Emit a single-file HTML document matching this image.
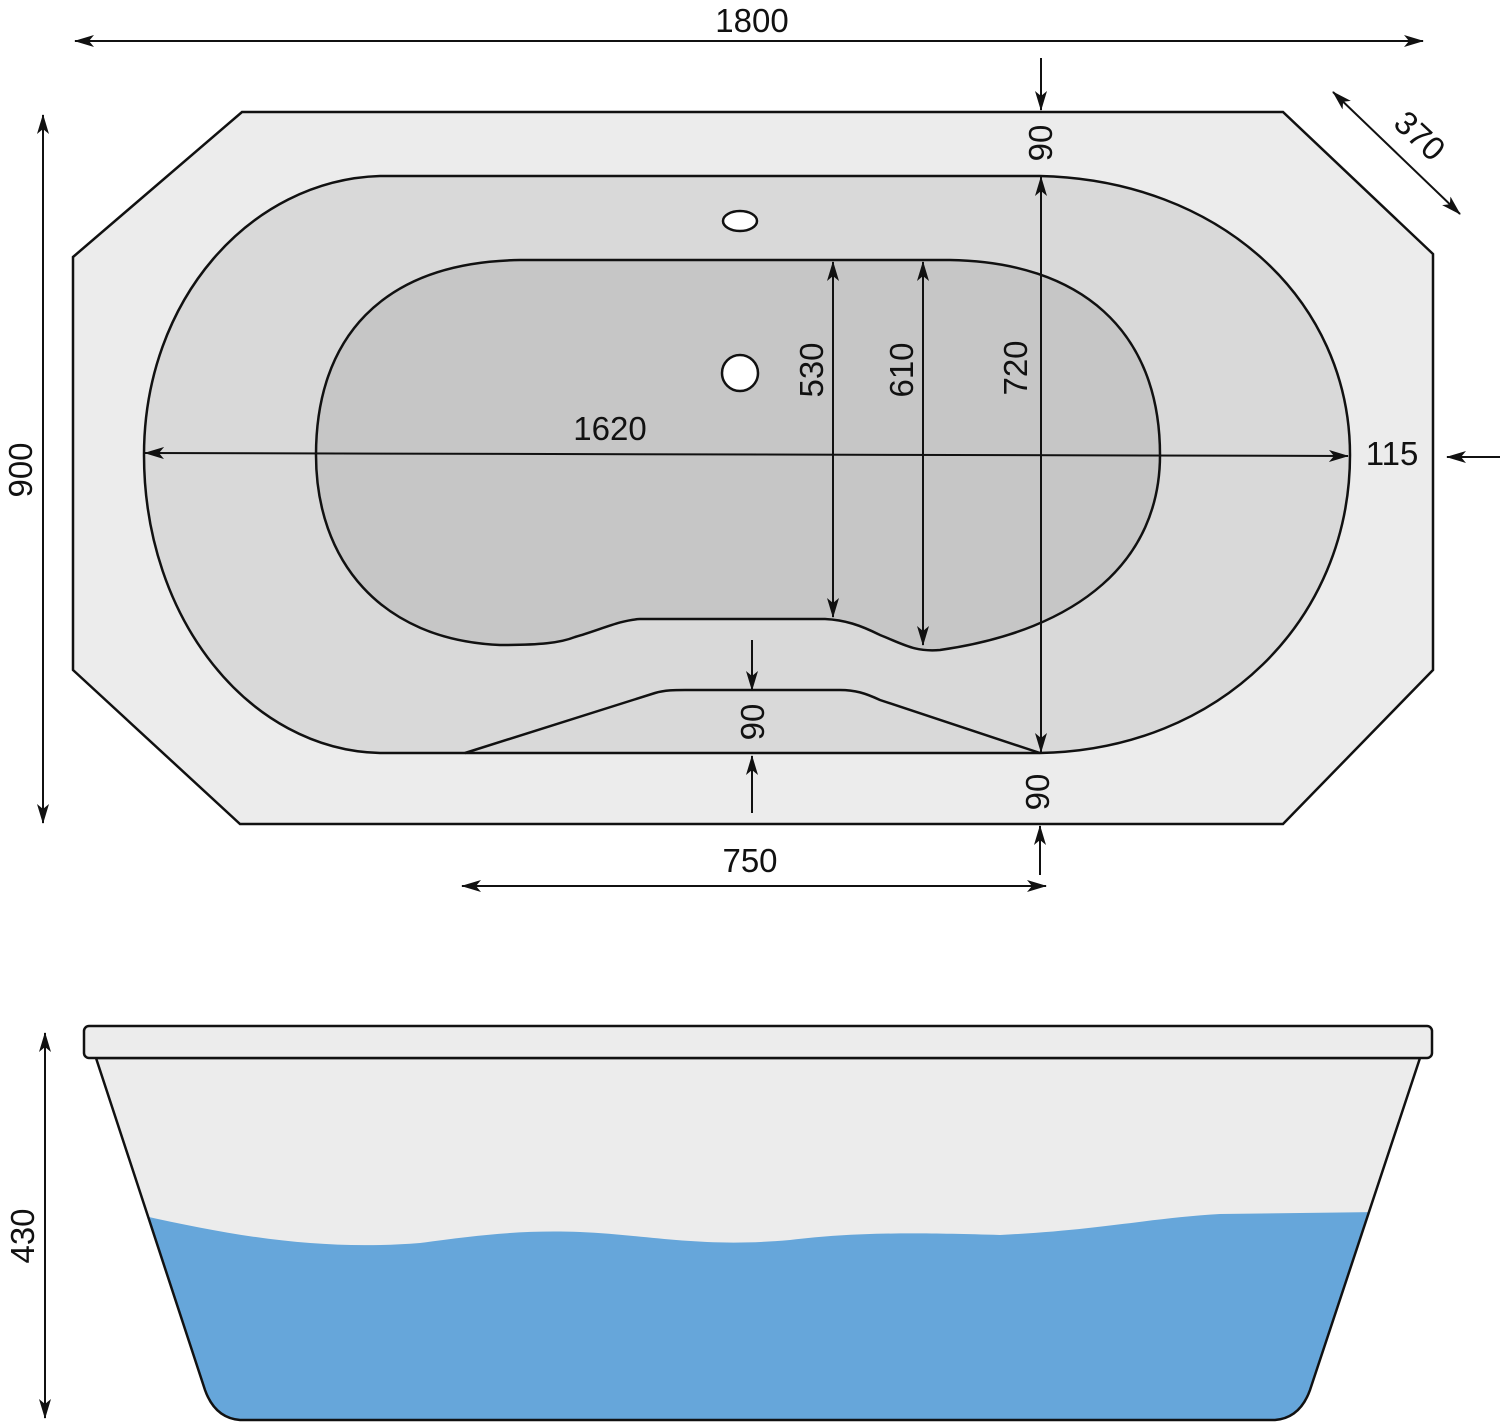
<!DOCTYPE html>
<html><head><meta charset="utf-8"><style>html,body{margin:0;padding:0;background:#fff}svg{display:block}text{font-family:"Liberation Sans",sans-serif;font-size:33px;fill:#111}</style></head>
<body>
<svg width="1500" height="1422" viewBox="0 0 1500 1422" xmlns="http://www.w3.org/2000/svg">
<defs>
<marker id="a" viewBox="0 0 20 12" refX="19" refY="6" markerWidth="20" markerHeight="12" markerUnits="userSpaceOnUse" orient="auto-start-reverse"><path d="M0,0 L20,6 L0,12 L5,6 Z" fill="#111"/></marker>
<clipPath id="bc"><path d="M96,1058 L1420,1058 L1310,1390 Q1300,1418 1275,1420 L240,1420 Q215,1418 205,1390 Z"/></clipPath>
</defs>
<g stroke="#111" stroke-width="2.5">
<path d="M242,112 L1283,112 L1433,254 L1433,670 L1283,824 L240,824 L73,670 L73,257 Z" fill="#ececec"/>
<path d="M380,176 L1040,176 C1220,180 1350,300 1350,455 C1350,620 1220,750 1040,753 L380,753 C250,750 144,620 144,455 C144,300 250,180 380,176 Z" fill="#d9d9d9"/>
<path d="M520,260 L950,260 C1080,262 1160,330 1160,455 C1160,560 1080,630 940,650 C915,652 905,645 880,635 C860,625 845,620 825,619 L640,619 C620,620 600,630 575,637 C560,643 540,645 500,645 C380,640 316,560 316,455 C316,340 380,262 520,260 Z" fill="#c6c6c6"/>
<path d="M465,753 L655,693 C665,690 675,690 685,690 L840,690 C855,690 865,693 880,700 L1040,753" fill="none"/>
<ellipse cx="740" cy="221" rx="17" ry="10" fill="#fff"/>
<circle cx="740" cy="373" r="18" fill="#fff"/>
</g>
<g stroke="#111" stroke-width="2" fill="none">
<line x1="75" y1="41" x2="1423" y2="41" marker-start="url(#a)" marker-end="url(#a)"/>
<line x1="43" y1="115" x2="43" y2="823" marker-start="url(#a)" marker-end="url(#a)"/>
<line x1="1333" y1="92" x2="1460" y2="214" marker-start="url(#a)" marker-end="url(#a)"/>
<line x1="1041" y1="58" x2="1041" y2="110" marker-end="url(#a)"/>
<line x1="1041" y1="177" x2="1041" y2="752" marker-start="url(#a)" marker-end="url(#a)"/>
<line x1="923" y1="262" x2="923" y2="645" marker-start="url(#a)" marker-end="url(#a)"/>
<line x1="833" y1="262" x2="833" y2="617" marker-start="url(#a)" marker-end="url(#a)"/>
<line x1="145" y1="453" x2="1348" y2="456" marker-start="url(#a)" marker-end="url(#a)"/>
<line x1="1500" y1="457" x2="1447" y2="457" marker-end="url(#a)"/>
<line x1="752" y1="640" x2="752" y2="690" marker-end="url(#a)"/>
<line x1="752" y1="813" x2="752" y2="756" marker-end="url(#a)"/>
<line x1="1040" y1="875" x2="1040" y2="826" marker-end="url(#a)"/>
<line x1="462" y1="886" x2="1046" y2="886" marker-start="url(#a)" marker-end="url(#a)"/>
<line x1="45" y1="1033" x2="45" y2="1418" marker-start="url(#a)" marker-end="url(#a)"/>
</g>
<g text-anchor="middle">
<text x="752" y="32">1800</text>
<text transform="translate(32,470) rotate(-90)">900</text>
<text transform="translate(1412,144) rotate(43)">370</text>
<text transform="translate(1052,143) rotate(-90)">90</text>
<text transform="translate(1027,368) rotate(-90)">720</text>
<text transform="translate(913,370) rotate(-90)">610</text>
<text transform="translate(823,370) rotate(-90)">530</text>
<text x="610" y="440">1620</text>
<text x="1392" y="465">115</text>
<text transform="translate(764,722) rotate(-90)">90</text>
<text transform="translate(1049,792) rotate(-90)">90</text>
<text x="750" y="872">750</text>
<text transform="translate(34,1236) rotate(-90)">430</text>
</g>
<path d="M96,1058 L1420,1058 L1310,1390 Q1300,1418 1275,1420 L240,1420 Q215,1418 205,1390 Z" fill="#ececec"/>
<path clip-path="url(#bc)" d="M140,1215 C250,1240 330,1250 420,1243 C480,1235 520,1230 580,1232 C650,1235 700,1248 790,1240 C850,1233 900,1232 1000,1235 C1100,1230 1150,1218 1220,1214 L1380,1212 L1380,1430 L140,1430 Z" fill="#66a6da"/>
<path d="M96,1058 L1420,1058 L1310,1390 Q1300,1418 1275,1420 L240,1420 Q215,1418 205,1390 Z" fill="none" stroke="#111" stroke-width="2.5"/>
<rect x="84" y="1026" width="1348" height="32" rx="5" fill="#ececec" stroke="#111" stroke-width="2.5"/>
</svg>
</body></html>
